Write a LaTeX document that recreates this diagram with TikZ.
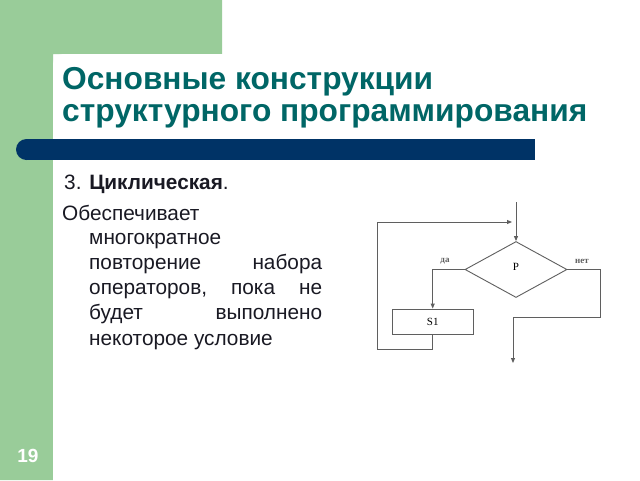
\documentclass[tikz,border=0pt]{standalone}
\usepackage{fontspec}
\setmainfont{Liberation Sans}
\newfontfamily\chartfont{Liberation Serif}
\usetikzlibrary{shapes.geometric,arrows.meta,positioning}
\definecolor{slidegreen}{RGB}{153,204,153}
\definecolor{titleteal}{RGB}{0,102,102}
\definecolor{barblue}{RGB}{0,51,102}
\definecolor{chartgray}{RGB}{95,95,95}
\definecolor{bodyink}{RGB}{25,25,35}
\tikzset{
    titletext/.style={anchor=base west, inner sep=0pt, text=titleteal,
        font=\bfseries\fontsize{31.7}{34}\selectfont},
    bodytext/.style={anchor=base west, inner sep=0pt, text=bodyink,
        font=\fontsize{20.8}{22}\selectfont},
    chartline/.style={draw=chartgray, line width=0.9pt},
    chartarrow/.style={chartline, -{Triangle[length=5pt,width=4pt]}},
    chartlabel/.style={inner sep=0pt, text=chartgray, font=\chartfont\bfseries\fontsize{9}{10}\selectfont}
}

\begin{document}
\begin{tikzpicture}[x=1pt,y=-1pt]
    \useasboundingbox (0,0) rectangle (640,480);
    \fill[white] (0,0) rectangle (640,480);
    % green frame with the white tab
    \fill[slidegreen] (0,0) rectangle (222,54) (0,0) rectangle (53,480);
    \fill[white, rounded corners=10pt] (53,495) -- (53,54) -- (250,54) -- (250,495) -- cycle;
    % bar under the title
    \fill[barblue] (26.5,149.5) circle[radius=10.5];
    \fill[barblue] (26.5,139) rectangle (535,160);
    \node[titletext] (title1) at (62,89) {Основные конструкции};
    \node[titletext] (title2) at (62,121) {структурного программирования};
    \node[text=white, font=\bfseries\fontsize{19}{20}\selectfont] (pagenum) at (28,456) {19};

    % text
    \node[bodytext] (heading) at (64,189) {3. \textbf{Циклическая}.};
    \node[bodytext] (line1) at (62,220) {Обеспечивает};
    \node[bodytext] (line2) at (89,244) {многократное};
    \node[bodytext] (line3) at (89,269) {\hbox to 233pt{повторение\hfill набора}};
    \node[bodytext] (line4) at (89,294) {\hbox to 233pt{операторов,\hfill пока\hfill не}};
    \node[bodytext] (line5) at (89,319) {\hbox to 233pt{будет\hfill выполнено}};
    \node[bodytext] (line6) at (89,345) {некоторое условие};

    % flowchart
    \node[diamond, chartline, minimum width=102pt, minimum height=56pt, inner sep=0pt,
        font=\chartfont\fontsize{11}{12}\selectfont] (cond) at (516,269.5) {\raisebox{6pt}{P}};
    \node[chartline, minimum width=81pt, minimum height=25pt, inner sep=0pt,
        font=\chartfont\fontsize{11}{12}\selectfont] (body) at (432.7,321.5) {S1};
    \coordinate (entry) at (516,202);
    \coordinate (loopin) at (512,222);
    \coordinate (loopcorner) at (377,349);
    \coordinate (noturn) at (600,317);
    \coordinate (exit) at (513,363);
    \draw[chartarrow] (entry) -- (cond);
    \draw[chartarrow] (cond.west) -| (body.north);
    \draw[chartarrow] (body.south) |- (loopcorner) |- (loopin);
    \draw[chartarrow] (cond.east) -| (noturn) -| (exit);
    \node[chartlabel] (yes) at (445,261) {да};
    \node[chartlabel] (no) at (582,261) {нет};
\end{tikzpicture}
\end{document}
